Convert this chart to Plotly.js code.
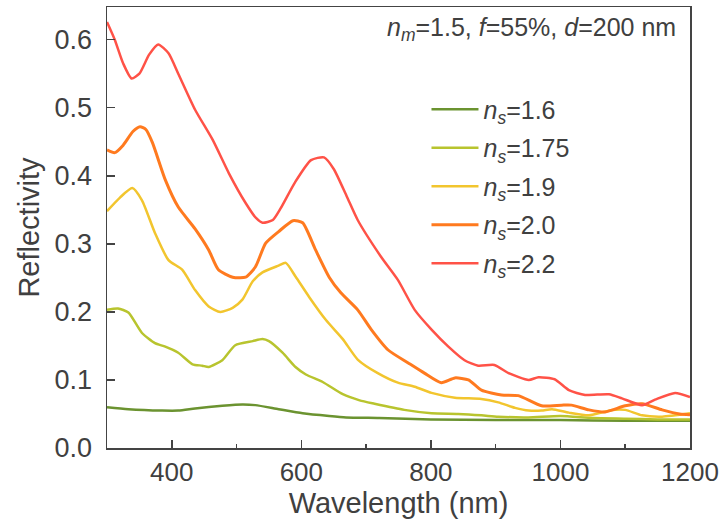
<!DOCTYPE html>
<html>
<head>
<meta charset="utf-8">
<script src="https://cdn.plot.ly/plotly-3.0.1.min.js"></script>
<style>html,body{margin:0;padding:0;background:#fff;}#chart{width:728px;height:521px;}</style>
</head>
<body>
<div id="chart"></div>
<script>
// n_s = 1.6
const wl16 = [300,333,385,410,436,478,509,529,565,602,643,669,720,800,900,1000,1100,1200];
const r16  = [0.060,0.057,0.055,0.055,0.058,0.062,0.064,0.063,0.057,0.051,0.047,0.045,0.044,0.042,0.041,0.041,0.040,0.040];
// n_s = 1.75
const wl175 = [300,317,333,354,374,390,410,432,447,457,478,498,525,540,550,571,591,607,633,664,690,713,759,801,842,878,904,950,1000,1050,1100,1150,1200];
const r175  = [0.203,0.205,0.199,0.169,0.154,0.149,0.140,0.123,0.121,0.119,0.129,0.151,0.157,0.160,0.157,0.140,0.119,0.108,0.097,0.079,0.070,0.065,0.056,0.051,0.050,0.048,0.046,0.045,0.047,0.044,0.043,0.042,0.042];
// n_s = 1.9
const wl19 = [300,320,339,354,374,395,416,436,457,475,494,509,525,540,565,576,591,612,638,664,687,718,749,775,801,837,878,904,930,951,971,987,1013,1044,1080,1100,1126,1157,1200];
const r19  = [0.348,0.368,0.382,0.364,0.316,0.276,0.262,0.232,0.208,0.200,0.206,0.218,0.245,0.258,0.268,0.272,0.252,0.222,0.188,0.160,0.130,0.110,0.096,0.090,0.081,0.074,0.072,0.067,0.059,0.055,0.055,0.057,0.052,0.048,0.056,0.056,0.048,0.046,0.051];
// n_s = 2.0
const wl20 = [300,312,325,340,351,360,370,390,410,436,457,472,494,514,529,545,565,587,602,622,643,661,687,708,734,765,790,816,837,858,878,909,935,971,1002,1017,1044,1069,1100,1126,1157,1184,1200];
const r20  = [0.438,0.434,0.445,0.465,0.472,0.468,0.449,0.394,0.354,0.322,0.291,0.262,0.251,0.251,0.266,0.301,0.318,0.334,0.331,0.291,0.251,0.228,0.203,0.174,0.144,0.125,0.110,0.096,0.103,0.100,0.085,0.078,0.077,0.062,0.063,0.063,0.056,0.053,0.062,0.065,0.056,0.050,0.049];
// n_s = 2.2
const wl22 = [300,312,325,338,350,365,379,395,410,436,463,488,514,530,540,556,568,590,615,635,650,670,687,723,749,775,801,827,852,873,898,920,951,966,991,1013,1038,1075,1095,1126,1146,1177,1200];
const r22  = [0.626,0.600,0.565,0.543,0.550,0.578,0.593,0.580,0.550,0.497,0.453,0.404,0.360,0.338,0.331,0.335,0.352,0.390,0.423,0.427,0.410,0.370,0.335,0.281,0.247,0.203,0.174,0.149,0.129,0.121,0.122,0.110,0.100,0.104,0.101,0.085,0.078,0.079,0.073,0.063,0.071,0.081,0.075];

const names = ['<i>n<sub>s</sub></i>=1.6','<i>n<sub>s</sub></i>=1.75','<i>n<sub>s</sub></i>=1.9','<i>n<sub>s</sub></i>=2.0','<i>n<sub>s</sub></i>=2.2'];
const colors = ['#6b9330','#b8c42e','#f2c52e','#ff7a1f','#ff5247'];
const xs = [wl16,wl175,wl19,wl20,wl22];
const ys = [r16,r175,r19,r20,r22];
const widths = [2.5,2.5,2.5,3,2.5];

const traces = xs.map((x,i)=>({
  x: x, y: ys[i], type:'scatter', mode:'lines', name: names[i],
  legendgroup: 'g'+i,
  line:{color:colors[i], width:widths[i], shape:'spline', smoothing:0.6}
}));

const txt = '#404040';
const layout = {
  width:728, height:521,
  margin:{l:107, r:38, t:7, b:73},
  paper_bgcolor:'#fff', plot_bgcolor:'#fff',
  font:{family:'Liberation Sans, Arial, sans-serif', color:txt, size:26},
  showlegend:true,
  legend:{x:0.548, y:0.82, xanchor:'left', yanchor:'top', bgcolor:'rgba(0,0,0,0)',
          font:{size:25, color:txt}, tracegroupgap:3, traceorder:'grouped', itemwidth:47},
  xaxis:{range:[300,1200], tickvals:[400,600,800,1000,1200], ticks:'inside', ticklen:8, tickwidth:1.5,
         tickcolor:'#444', showline:true, linecolor:'#444', linewidth:1.5, mirror:true, showgrid:false, zeroline:false,
         minor:{ticks:'inside', tickvals:[500,700,900,1100], ticklen:4, tickwidth:1.5, tickcolor:'#444', showgrid:false},
         tickfont:{size:26, color:txt}, ticklabelstandoff:0,
         title:{text:'Wavelength (nm)', font:{size:29, color:txt}, standoff:0}},
  yaxis:{range:[0,0.648], tickvals:[0,0.1,0.2,0.3,0.4,0.5,0.6], tickformat:'.1f', ticks:'inside', ticklen:8, tickwidth:1.5,
         tickcolor:'#444', showline:true, linecolor:'#444', linewidth:1.5, mirror:true, showgrid:false, zeroline:false,
         tickfont:{size:27, color:txt}, ticklabelstandoff:8,
         title:{text:'Reflectivity', font:{size:29, color:txt}, standoff:6}},
  annotations:[{xref:'paper', yref:'paper', x:0.98, y:0.95, xanchor:'right', yanchor:'middle', showarrow:false,
    text:'<i>n<sub>m</sub></i>=1.5, <i>f</i>=55%, <i>d</i>=200 nm', font:{size:25, color:txt}}]
};
Plotly.newPlot('chart', traces, layout, {displayModeBar:false, staticPlot:true});
</script>
</body>
</html>
